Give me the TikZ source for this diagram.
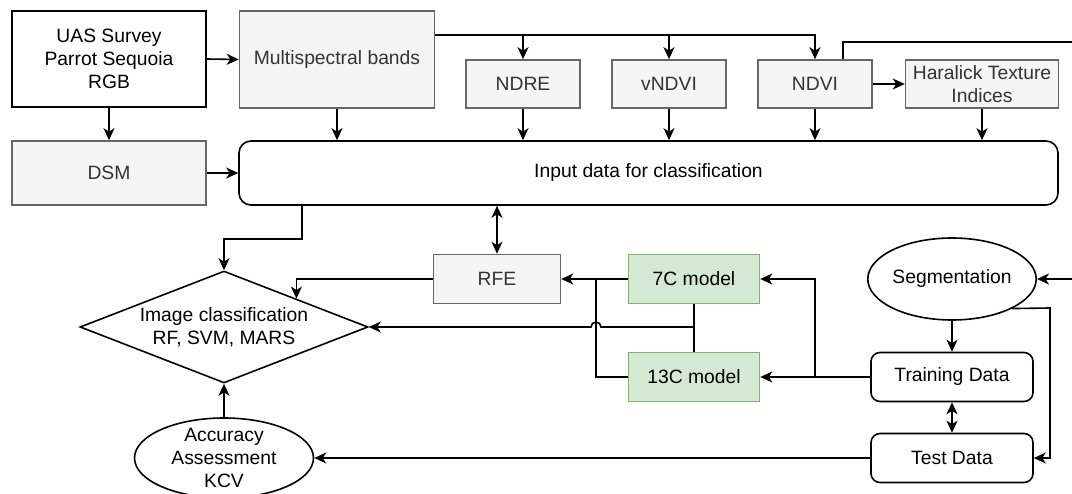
\documentclass[tikz,border=0pt]{standalone}
\usepackage{fontspec}
\setmainfont{Liberation Sans}
\usetikzlibrary{shapes.geometric,arrows.meta,calc}
\definecolor{gfill}{HTML}{F5F5F5}
\definecolor{gline}{HTML}{666666}
\definecolor{gtext}{HTML}{333333}
\definecolor{grfill}{HTML}{D5E8D4}
\definecolor{grline}{HTML}{82B366}
\tikzset{
  every node/.style={font=\fontsize{19.3}{23.3}\selectfont, align=center},
  plainbox/.style={draw=black, line width=1.6pt, fill=white, inner sep=0pt},
  graybox/.style={draw=gline, line width=1.6pt, fill=gfill, text=gtext, inner sep=0pt},
  greenbox/.style={draw=grline, line width=1.6pt, fill=grfill, inner sep=0pt},
  roundbox/.style={draw=black, line width=1.6pt, fill=white, rounded corners=9pt, inner sep=0pt},
  arr/.style={line width=1.6pt, -{Stealth[length=12pt,width=11pt,inset=3.5pt]}},
  darr/.style={line width=1.6pt, {Stealth[length=12pt,width=11pt,inset=3.5pt]}-{Stealth[length=12pt,width=11pt,inset=3.5pt]}},
  ln/.style={line width=1.6pt},
}
\begin{document}
\begin{tikzpicture}[x=1pt,y=-1pt]
\useasboundingbox (0,0) rectangle (1072,494);
% nodes
\node[plainbox, minimum width=194pt, minimum height=96pt] (uas) at (109,59) {UAS Survey\\Parrot Sequoia\\RGB};
\node[graybox, minimum width=195pt, minimum height=97pt] (ms) at (337,59.5) {Multispectral bands};
\node[graybox, minimum width=194pt, minimum height=64pt] (dsm) at (109,173) {DSM};
\node[graybox, minimum width=114pt, minimum height=48pt] (ndre) at (523,84) {NDRE};
\node[graybox, minimum width=114pt, minimum height=48pt] (vndvi) at (669,84) {vNDVI};
\node[graybox, minimum width=114pt, minimum height=48pt] (ndvi) at (815,84) {NDVI};
\node[graybox, minimum width=153pt, minimum height=48pt] (har) at (982,84) {Haralick Texture\\Indices};
\node[roundbox, minimum width=819pt, minimum height=64pt, rounded corners=12pt] (inp) at (648.5,173) {Input data for classification};
\node[graybox, minimum width=127pt, minimum height=49pt] (rfe) at (497,279) {RFE};
\node[greenbox, minimum width=131pt, minimum height=49pt] (c7) at (694,279) {7C model};
\node[greenbox, minimum width=131pt, minimum height=49pt] (c13) at (694,377) {13C model};
\node[draw, line width=1.6pt, diamond, shape aspect=2.58, inner sep=0pt, minimum width=288pt, minimum height=112pt] (cls) at (224,327) {Image classification\\RF, SVM, MARS};
\node[draw, line width=1.6pt, ellipse, inner xsep=0pt, inner ysep=-8pt, minimum width=179pt, minimum height=80pt] (acc) at (224,458) {Accuracy\\Assessment\\KCV};
\node[draw, line width=1.6pt, ellipse, inner sep=0pt, minimum width=160pt, minimum height=82pt] (seg) at (952,279) {Segmentation};
\node[roundbox, minimum width=162pt, minimum height=49pt] (train) at (952,377) {Training Data};
\node[roundbox, minimum width=162pt, minimum height=49pt] (test) at (952,458) {Test Data};
% coordinates
\coordinate (top) at (818,35);
\coordinate (j7) at (596,279);
\coordinate (jt) at (815,377);
\coordinate (far) at (1085,42);
% connectors
\draw[arr] (uas.east) -- (ms.west);
\draw[arr] (uas.south) -- (dsm.north);
\draw[arr] (dsm.east) -- (dsm.east -| inp.west);
\draw[arr] (ms.south) -- (ms.south |- inp.north);
\draw[arr] (ms.east |- top) -| (ndvi.north);
\draw[arr] (ndre.north |- top) -- (ndre.north);
\draw[arr] (vndvi.north |- top) -- (vndvi.north);
\draw[arr] (ndre.south) -- (ndre.south |- inp.north);
\draw[arr] (vndvi.south) -- (vndvi.south |- inp.north);
\draw[arr] (ndvi.south) -- (ndvi.south |- inp.north);
\draw[arr] (har.south) -- (har.south |- inp.north);
\draw[arr] (ndvi.east) -- (har.west);
\draw[arr] ([xshift=28pt]ndvi.north) |- (far) |- (seg.east);
\draw[arr] ([xshift=64pt]inp.south west) -- ++(0,33) -| (cls.north);
\draw[darr] (rfe.north) -- (rfe.north |- inp.south);
\draw[arr] (rfe.west) -| ($(cls.north)!0.5!(cls.east)$);
\draw[arr] (c7.west) -- (rfe.east);
\draw[ln] (c13.west) -| (j7);
\draw[ln] (c7.south) -- (c13.north);
\draw[arr] (c7.south |- cls.east) -- ($(j7 |- cls.east)+(5,0)$) arc (0:-180:5) -- (cls.east);
\draw[arr] (train.west) -- (c13.east);
\draw[arr] (jt) |- (c7.east);
\draw[arr] (seg.south) -- (train.north);
\draw[darr] (train.south) -- (test.north);
\draw[arr] (seg.south east) -- (1050,308) |- (test.east);
\draw[arr] (test.west) -- (acc.east);
\draw[arr] (acc.north) -- (cls.south);
\end{tikzpicture}
\end{document}
